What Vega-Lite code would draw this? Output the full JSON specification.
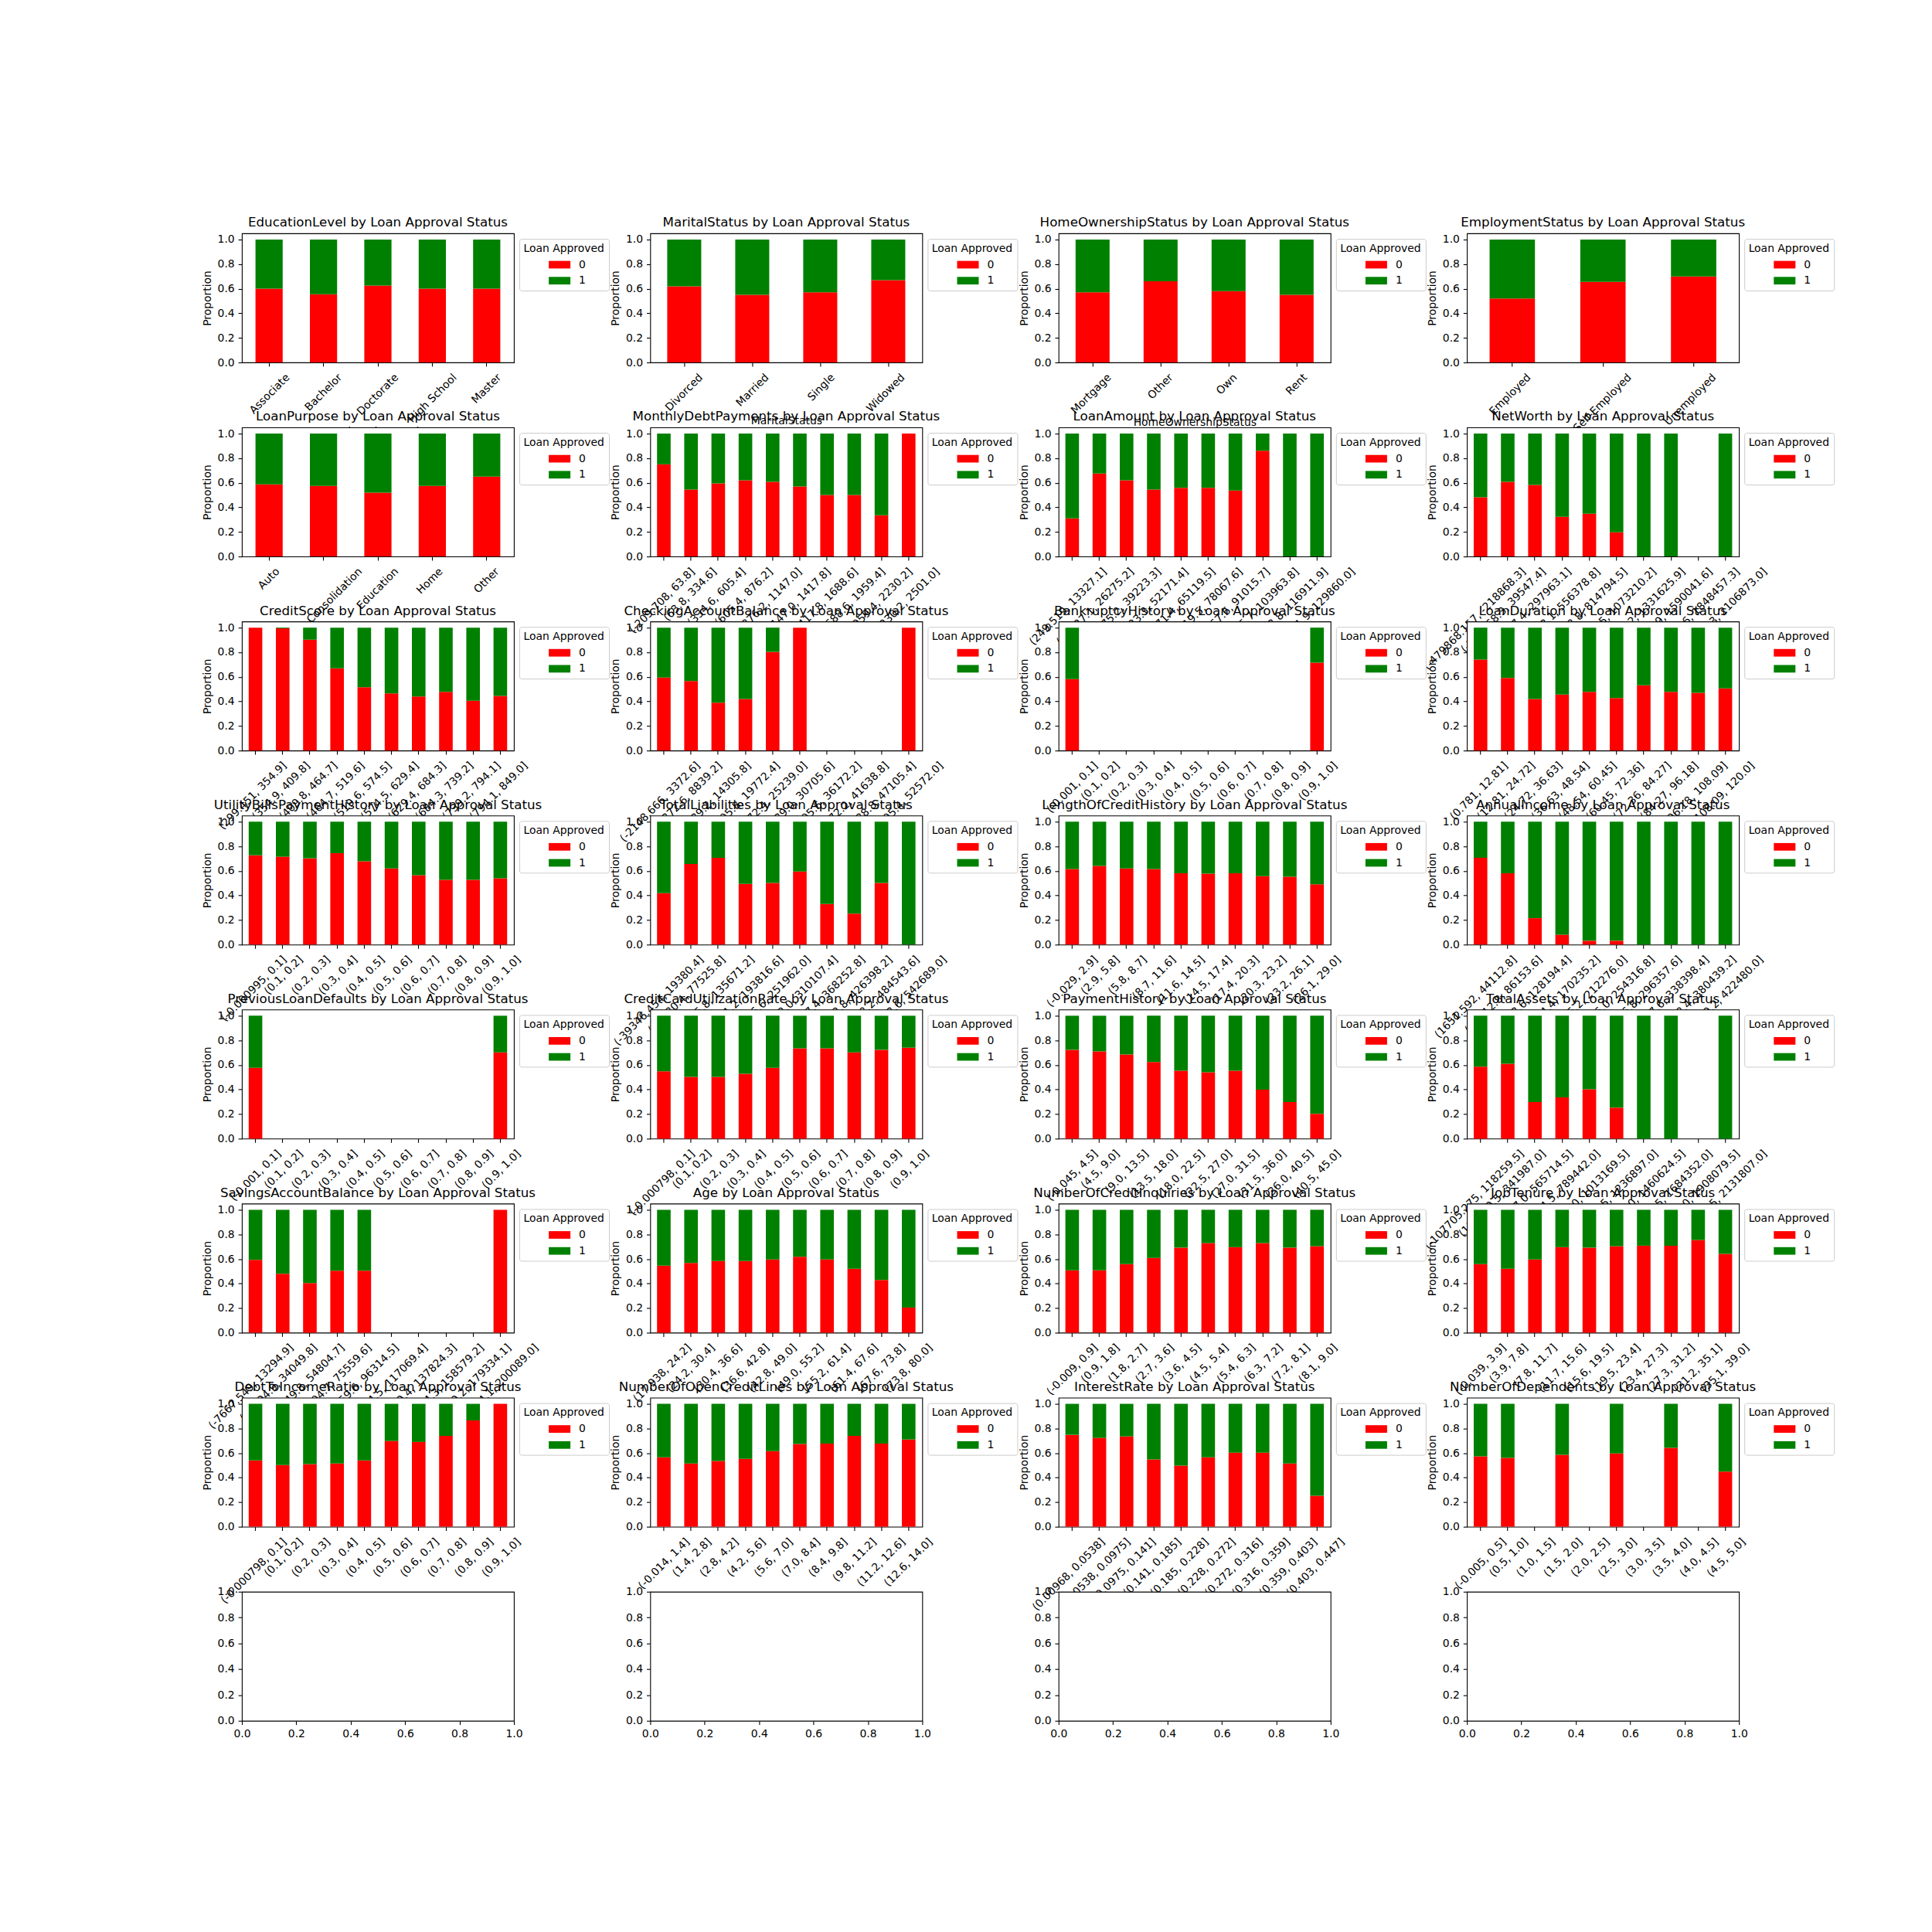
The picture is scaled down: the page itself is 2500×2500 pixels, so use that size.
{
"$schema": "https://vega.github.io/schema/vega-lite/v6.json",
"background": "white",
"padding": {"left": 260, "top": 279, "right": 10, "bottom": 10},
"data": {"values": [
{"f":"EducationLevel","b":"Associate","0":0.60,"1":0.40},
{"f":"EducationLevel","b":"Bachelor","0":0.555,"1":0.445},
{"f":"EducationLevel","b":"Doctorate","0":0.625,"1":0.375},
{"f":"EducationLevel","b":"High School","0":0.60,"1":0.40},
{"f":"EducationLevel","b":"Master","0":0.60,"1":0.40},
{"f":"MaritalStatus","b":"Divorced","0":0.62,"1":0.38},
{"f":"MaritalStatus","b":"Married","0":0.55,"1":0.45},
{"f":"MaritalStatus","b":"Single","0":0.57,"1":0.43},
{"f":"MaritalStatus","b":"Widowed","0":0.67,"1":0.33},
{"f":"HomeOwnershipStatus","b":"Mortgage","0":0.57,"1":0.43},
{"f":"HomeOwnershipStatus","b":"Other","0":0.66,"1":0.34},
{"f":"HomeOwnershipStatus","b":"Own","0":0.58,"1":0.42},
{"f":"HomeOwnershipStatus","b":"Rent","0":0.55,"1":0.45},
{"f":"EmploymentStatus","b":"Employed","0":0.52,"1":0.48},
{"f":"EmploymentStatus","b":"Self-Employed","0":0.655,"1":0.345},
{"f":"EmploymentStatus","b":"Unemployed","0":0.70,"1":0.30},
{"f":"LoanPurpose","b":"Auto","0":0.587,"1":0.413},
{"f":"LoanPurpose","b":"Debt Consolidation","0":0.574,"1":0.426},
{"f":"LoanPurpose","b":"Education","0":0.52,"1":0.48},
{"f":"LoanPurpose","b":"Home","0":0.574,"1":0.426},
{"f":"LoanPurpose","b":"Other","0":0.65,"1":0.35},
{"f":"MonthlyDebtPayments","b":"(-209.708, 63.8]","0":0.75,"1":0.25},
{"f":"MonthlyDebtPayments","b":"(63.8, 334.6]","0":0.545,"1":0.455},
{"f":"MonthlyDebtPayments","b":"(334.6, 605.4]","0":0.595,"1":0.405},
{"f":"MonthlyDebtPayments","b":"(605.4, 876.2]","0":0.62,"1":0.38},
{"f":"MonthlyDebtPayments","b":"(876.2, 1147.0]","0":0.608,"1":0.392},
{"f":"MonthlyDebtPayments","b":"(1147.0, 1417.8]","0":0.57,"1":0.43},
{"f":"MonthlyDebtPayments","b":"(1417.8, 1688.6]","0":0.50,"1":0.50},
{"f":"MonthlyDebtPayments","b":"(1688.6, 1959.4]","0":0.50,"1":0.50},
{"f":"MonthlyDebtPayments","b":"(1959.4, 2230.2]","0":0.335,"1":0.665},
{"f":"MonthlyDebtPayments","b":"(2230.2, 2501.0]","0":1,"1":0},
{"f":"LoanAmount","b":"(249.519, 13327.1]","0":0.31,"1":0.69},
{"f":"LoanAmount","b":"(13327.1, 26275.2]","0":0.675,"1":0.325},
{"f":"LoanAmount","b":"(26275.2, 39223.3]","0":0.62,"1":0.38},
{"f":"LoanAmount","b":"(39223.3, 52171.4]","0":0.545,"1":0.455},
{"f":"LoanAmount","b":"(52171.4, 65119.5]","0":0.558,"1":0.442},
{"f":"LoanAmount","b":"(65119.5, 78067.6]","0":0.558,"1":0.442},
{"f":"LoanAmount","b":"(78067.6, 91015.7]","0":0.537,"1":0.463},
{"f":"LoanAmount","b":"(91015.7, 103963.8]","0":0.86,"1":0.14},
{"f":"LoanAmount","b":"(103963.8, 116911.9]","0":0,"1":1},
{"f":"LoanAmount","b":"(116911.9, 129860.0]","0":0,"1":1},
{"f":"NetWorth","b":"(-479868.157, -218868.3]","0":0.482,"1":0.518},
{"f":"NetWorth","b":"(-218868.3, 39547.4]","0":0.608,"1":0.392},
{"f":"NetWorth","b":"(39547.4, 297963.1]","0":0.583,"1":0.417},
{"f":"NetWorth","b":"(297963.1, 556378.8]","0":0.323,"1":0.677},
{"f":"NetWorth","b":"(556378.8, 814794.5]","0":0.348,"1":0.652},
{"f":"NetWorth","b":"(814794.5, 1073210.2]","0":0.197,"1":0.803},
{"f":"NetWorth","b":"(1073210.2, 1331625.9]","0":0,"1":1},
{"f":"NetWorth","b":"(1331625.9, 1590041.6]","0":0,"1":1},
{"f":"NetWorth","b":"(1590041.6, 1848457.3]","0":0,"1":0},
{"f":"NetWorth","b":"(1848457.3, 2106873.0]","0":0,"1":1},
{"f":"CreditScore","b":"(299.451, 354.9]","0":1,"1":0},
{"f":"CreditScore","b":"(354.9, 409.8]","0":0.994,"1":0.006},
{"f":"CreditScore","b":"(409.8, 464.7]","0":0.902,"1":0.098},
{"f":"CreditScore","b":"(464.7, 519.6]","0":0.669,"1":0.331},
{"f":"CreditScore","b":"(519.6, 574.5]","0":0.515,"1":0.485},
{"f":"CreditScore","b":"(574.5, 629.4]","0":0.465,"1":0.535},
{"f":"CreditScore","b":"(629.4, 684.3]","0":0.44,"1":0.56},
{"f":"CreditScore","b":"(684.3, 739.2]","0":0.477,"1":0.523},
{"f":"CreditScore","b":"(739.2, 794.1]","0":0.406,"1":0.594},
{"f":"CreditScore","b":"(794.1, 849.0]","0":0.444,"1":0.556},
{"f":"CheckingAccountBalance","b":"(-2148.666, 3372.6]","0":0.594,"1":0.406},
{"f":"CheckingAccountBalance","b":"(3372.6, 8839.2]","0":0.565,"1":0.435},
{"f":"CheckingAccountBalance","b":"(8839.2, 14305.8]","0":0.39,"1":0.61},
{"f":"CheckingAccountBalance","b":"(14305.8, 19772.4]","0":0.419,"1":0.581},
{"f":"CheckingAccountBalance","b":"(19772.4, 25239.0]","0":0.802,"1":0.198},
{"f":"CheckingAccountBalance","b":"(25239.0, 30705.6]","0":1,"1":0},
{"f":"CheckingAccountBalance","b":"(30705.6, 36172.2]","0":0,"1":0},
{"f":"CheckingAccountBalance","b":"(36172.2, 41638.8]","0":0,"1":0},
{"f":"CheckingAccountBalance","b":"(41638.8, 47105.4]","0":0,"1":0},
{"f":"CheckingAccountBalance","b":"(47105.4, 52572.0]","0":1,"1":0},
{"f":"BankruptcyHistory","b":"(-0.001, 0.1]","0":0.581,"1":0.419},
{"f":"BankruptcyHistory","b":"(0.1, 0.2]","0":0,"1":0},
{"f":"BankruptcyHistory","b":"(0.2, 0.3]","0":0,"1":0},
{"f":"BankruptcyHistory","b":"(0.3, 0.4]","0":0,"1":0},
{"f":"BankruptcyHistory","b":"(0.4, 0.5]","0":0,"1":0},
{"f":"BankruptcyHistory","b":"(0.5, 0.6]","0":0,"1":0},
{"f":"BankruptcyHistory","b":"(0.6, 0.7]","0":0,"1":0},
{"f":"BankruptcyHistory","b":"(0.7, 0.8]","0":0,"1":0},
{"f":"BankruptcyHistory","b":"(0.8, 0.9]","0":0,"1":0},
{"f":"BankruptcyHistory","b":"(0.9, 1.0]","0":0.715,"1":0.285},
{"f":"LoanDuration","b":"(0.781, 12.81]","0":0.74,"1":0.26},
{"f":"LoanDuration","b":"(12.81, 24.72]","0":0.59,"1":0.41},
{"f":"LoanDuration","b":"(24.72, 36.63]","0":0.419,"1":0.581},
{"f":"LoanDuration","b":"(36.63, 48.54]","0":0.456,"1":0.544},
{"f":"LoanDuration","b":"(48.54, 60.45]","0":0.477,"1":0.523},
{"f":"LoanDuration","b":"(60.45, 72.36]","0":0.427,"1":0.573},
{"f":"LoanDuration","b":"(72.36, 84.27]","0":0.531,"1":0.469},
{"f":"LoanDuration","b":"(84.27, 96.18]","0":0.477,"1":0.523},
{"f":"LoanDuration","b":"(96.18, 108.09]","0":0.469,"1":0.531},
{"f":"LoanDuration","b":"(108.09, 120.0]","0":0.506,"1":0.494},
{"f":"UtilityBillsPaymentHistory","b":"(-0.000995, 0.1]","0":0.727,"1":0.273},
{"f":"UtilityBillsPaymentHistory","b":"(0.1, 0.2]","0":0.715,"1":0.285},
{"f":"UtilityBillsPaymentHistory","b":"(0.2, 0.3]","0":0.702,"1":0.298},
{"f":"UtilityBillsPaymentHistory","b":"(0.3, 0.4]","0":0.744,"1":0.256},
{"f":"UtilityBillsPaymentHistory","b":"(0.4, 0.5]","0":0.677,"1":0.323},
{"f":"UtilityBillsPaymentHistory","b":"(0.5, 0.6]","0":0.619,"1":0.381},
{"f":"UtilityBillsPaymentHistory","b":"(0.6, 0.7]","0":0.565,"1":0.435},
{"f":"UtilityBillsPaymentHistory","b":"(0.7, 0.8]","0":0.527,"1":0.473},
{"f":"UtilityBillsPaymentHistory","b":"(0.8, 0.9]","0":0.527,"1":0.473},
{"f":"UtilityBillsPaymentHistory","b":"(0.9, 1.0]","0":0.54,"1":0.46},
{"f":"TotalLiabilities","b":"(-39346.454, 19380.4]","0":0.419,"1":0.581},
{"f":"TotalLiabilities","b":"(19380.4, 77525.8]","0":0.656,"1":0.344},
{"f":"TotalLiabilities","b":"(77525.8, 135671.2]","0":0.706,"1":0.294},
{"f":"TotalLiabilities","b":"(135671.2, 193816.6]","0":0.494,"1":0.506},
{"f":"TotalLiabilities","b":"(193816.6, 251962.0]","0":0.502,"1":0.498},
{"f":"TotalLiabilities","b":"(251962.0, 310107.4]","0":0.594,"1":0.406},
{"f":"TotalLiabilities","b":"(310107.4, 368252.8]","0":0.331,"1":0.669},
{"f":"TotalLiabilities","b":"(368252.8, 426398.2]","0":0.252,"1":0.748},
{"f":"TotalLiabilities","b":"(426398.2, 484543.6]","0":0.502,"1":0.498},
{"f":"TotalLiabilities","b":"(484543.6, 542689.0]","0":0,"1":1},
{"f":"LengthOfCreditHistory","b":"(-0.029, 2.9]","0":0.615,"1":0.385},
{"f":"LengthOfCreditHistory","b":"(2.9, 5.8]","0":0.64,"1":0.36},
{"f":"LengthOfCreditHistory","b":"(5.8, 8.7]","0":0.619,"1":0.381},
{"f":"LengthOfCreditHistory","b":"(8.7, 11.6]","0":0.615,"1":0.385},
{"f":"LengthOfCreditHistory","b":"(11.6, 14.5]","0":0.581,"1":0.419},
{"f":"LengthOfCreditHistory","b":"(14.5, 17.4]","0":0.577,"1":0.423},
{"f":"LengthOfCreditHistory","b":"(17.4, 20.3]","0":0.581,"1":0.419},
{"f":"LengthOfCreditHistory","b":"(20.3, 23.2]","0":0.556,"1":0.444},
{"f":"LengthOfCreditHistory","b":"(23.2, 26.1]","0":0.552,"1":0.448},
{"f":"LengthOfCreditHistory","b":"(26.1, 29.0]","0":0.49,"1":0.51},
{"f":"AnnualIncome","b":"(1651.592, 44112.8]","0":0.706,"1":0.294},
{"f":"AnnualIncome","b":"(44112.8, 86153.6]","0":0.581,"1":0.419},
{"f":"AnnualIncome","b":"(86153.6, 128194.4]","0":0.215,"1":0.785},
{"f":"AnnualIncome","b":"(128194.4, 170235.2]","0":0.081,"1":0.919},
{"f":"AnnualIncome","b":"(170235.2, 212276.0]","0":0.031,"1":0.969},
{"f":"AnnualIncome","b":"(212276.0, 254316.8]","0":0.031,"1":0.969},
{"f":"AnnualIncome","b":"(254316.8, 296357.6]","0":0,"1":1},
{"f":"AnnualIncome","b":"(296357.6, 338398.4]","0":0,"1":1},
{"f":"AnnualIncome","b":"(338398.4, 380439.2]","0":0,"1":1},
{"f":"AnnualIncome","b":"(380439.2, 422480.0]","0":0,"1":1},
{"f":"PreviousLoanDefaults","b":"(-0.001, 0.1]","0":0.577,"1":0.423},
{"f":"PreviousLoanDefaults","b":"(0.1, 0.2]","0":0,"1":0},
{"f":"PreviousLoanDefaults","b":"(0.2, 0.3]","0":0,"1":0},
{"f":"PreviousLoanDefaults","b":"(0.3, 0.4]","0":0,"1":0},
{"f":"PreviousLoanDefaults","b":"(0.4, 0.5]","0":0,"1":0},
{"f":"PreviousLoanDefaults","b":"(0.5, 0.6]","0":0,"1":0},
{"f":"PreviousLoanDefaults","b":"(0.6, 0.7]","0":0,"1":0},
{"f":"PreviousLoanDefaults","b":"(0.7, 0.8]","0":0,"1":0},
{"f":"PreviousLoanDefaults","b":"(0.8, 0.9]","0":0,"1":0},
{"f":"PreviousLoanDefaults","b":"(0.9, 1.0]","0":0.702,"1":0.298},
{"f":"CreditCardUtilizationRate","b":"(-0.000798, 0.1]","0":0.548,"1":0.452},
{"f":"CreditCardUtilizationRate","b":"(0.1, 0.2]","0":0.502,"1":0.498},
{"f":"CreditCardUtilizationRate","b":"(0.2, 0.3]","0":0.502,"1":0.498},
{"f":"CreditCardUtilizationRate","b":"(0.3, 0.4]","0":0.527,"1":0.473},
{"f":"CreditCardUtilizationRate","b":"(0.4, 0.5]","0":0.577,"1":0.423},
{"f":"CreditCardUtilizationRate","b":"(0.5, 0.6]","0":0.735,"1":0.265},
{"f":"CreditCardUtilizationRate","b":"(0.6, 0.7]","0":0.735,"1":0.265},
{"f":"CreditCardUtilizationRate","b":"(0.7, 0.8]","0":0.702,"1":0.298},
{"f":"CreditCardUtilizationRate","b":"(0.8, 0.9]","0":0.723,"1":0.277},
{"f":"CreditCardUtilizationRate","b":"(0.9, 1.0]","0":0.74,"1":0.26},
{"f":"PaymentHistory","b":"(-0.045, 4.5]","0":0.723,"1":0.277},
{"f":"PaymentHistory","b":"(4.5, 9.0]","0":0.71,"1":0.29},
{"f":"PaymentHistory","b":"(9.0, 13.5]","0":0.685,"1":0.315},
{"f":"PaymentHistory","b":"(13.5, 18.0]","0":0.623,"1":0.377},
{"f":"PaymentHistory","b":"(18.0, 22.5]","0":0.552,"1":0.448},
{"f":"PaymentHistory","b":"(22.5, 27.0]","0":0.54,"1":0.46},
{"f":"PaymentHistory","b":"(27.0, 31.5]","0":0.552,"1":0.448},
{"f":"PaymentHistory","b":"(31.5, 36.0]","0":0.398,"1":0.602},
{"f":"PaymentHistory","b":"(36.0, 40.5]","0":0.298,"1":0.702},
{"f":"PaymentHistory","b":"(40.5, 45.0]","0":0.202,"1":0.798},
{"f":"TotalAssets","b":"(-107705.275, 118259.5]","0":0.585,"1":0.415},
{"f":"TotalAssets","b":"(118259.5, 341987.0]","0":0.61,"1":0.39},
{"f":"TotalAssets","b":"(341987.0, 565714.5]","0":0.298,"1":0.702},
{"f":"TotalAssets","b":"(565714.5, 789442.0]","0":0.335,"1":0.665},
{"f":"TotalAssets","b":"(789442.0, 1013169.5]","0":0.402,"1":0.598},
{"f":"TotalAssets","b":"(1013169.5, 1236897.0]","0":0.252,"1":0.748},
{"f":"TotalAssets","b":"(1236897.0, 1460624.5]","0":0,"1":1},
{"f":"TotalAssets","b":"(1460624.5, 1684352.0]","0":0,"1":1},
{"f":"TotalAssets","b":"(1684352.0, 1908079.5]","0":0,"1":0},
{"f":"TotalAssets","b":"(1908079.5, 2131807.0]","0":0,"1":1},
{"f":"SavingsAccountBalance","b":"(-7667.549, 13294.9]","0":0.592,"1":0.408},
{"f":"SavingsAccountBalance","b":"(13294.9, 34049.8]","0":0.479,"1":0.521},
{"f":"SavingsAccountBalance","b":"(34049.8, 54804.7]","0":0.404,"1":0.596},
{"f":"SavingsAccountBalance","b":"(54804.7, 75559.6]","0":0.504,"1":0.496},
{"f":"SavingsAccountBalance","b":"(75559.6, 96314.5]","0":0.504,"1":0.496},
{"f":"SavingsAccountBalance","b":"(96314.5, 117069.4]","0":0,"1":0},
{"f":"SavingsAccountBalance","b":"(117069.4, 137824.3]","0":0,"1":0},
{"f":"SavingsAccountBalance","b":"(137824.3, 158579.2]","0":0,"1":0},
{"f":"SavingsAccountBalance","b":"(158579.2, 179334.1]","0":0,"1":0},
{"f":"SavingsAccountBalance","b":"(179334.1, 200089.0]","0":1,"1":0},
{"f":"Age","b":"(17.938, 24.2]","0":0.546,"1":0.454},
{"f":"Age","b":"(24.2, 30.4]","0":0.567,"1":0.433},
{"f":"Age","b":"(30.4, 36.6]","0":0.583,"1":0.417},
{"f":"Age","b":"(36.6, 42.8]","0":0.583,"1":0.417},
{"f":"Age","b":"(42.8, 49.0]","0":0.596,"1":0.404},
{"f":"Age","b":"(49.0, 55.2]","0":0.617,"1":0.383},
{"f":"Age","b":"(55.2, 61.4]","0":0.596,"1":0.404},
{"f":"Age","b":"(61.4, 67.6]","0":0.521,"1":0.479},
{"f":"Age","b":"(67.6, 73.8]","0":0.429,"1":0.571},
{"f":"Age","b":"(73.8, 80.0]","0":0.204,"1":0.796},
{"f":"NumberOfCreditInquiries","b":"(-0.009, 0.9]","0":0.508,"1":0.492},
{"f":"NumberOfCreditInquiries","b":"(0.9, 1.8]","0":0.508,"1":0.492},
{"f":"NumberOfCreditInquiries","b":"(1.8, 2.7]","0":0.558,"1":0.442},
{"f":"NumberOfCreditInquiries","b":"(2.7, 3.6]","0":0.608,"1":0.392},
{"f":"NumberOfCreditInquiries","b":"(3.6, 4.5]","0":0.692,"1":0.308},
{"f":"NumberOfCreditInquiries","b":"(4.5, 5.4]","0":0.729,"1":0.271},
{"f":"NumberOfCreditInquiries","b":"(5.4, 6.3]","0":0.696,"1":0.304},
{"f":"NumberOfCreditInquiries","b":"(6.3, 7.2]","0":0.729,"1":0.271},
{"f":"NumberOfCreditInquiries","b":"(7.2, 8.1]","0":0.692,"1":0.308},
{"f":"NumberOfCreditInquiries","b":"(8.1, 9.0]","0":0.704,"1":0.296},
{"f":"JobTenure","b":"(-0.039, 3.9]","0":0.558,"1":0.442},
{"f":"JobTenure","b":"(3.9, 7.8]","0":0.521,"1":0.479},
{"f":"JobTenure","b":"(7.8, 11.7]","0":0.596,"1":0.404},
{"f":"JobTenure","b":"(11.7, 15.6]","0":0.696,"1":0.304},
{"f":"JobTenure","b":"(15.6, 19.5]","0":0.692,"1":0.308},
{"f":"JobTenure","b":"(19.5, 23.4]","0":0.704,"1":0.296},
{"f":"JobTenure","b":"(23.4, 27.3]","0":0.708,"1":0.292},
{"f":"JobTenure","b":"(27.3, 31.2]","0":0.708,"1":0.292},
{"f":"JobTenure","b":"(31.2, 35.1]","0":0.754,"1":0.246},
{"f":"JobTenure","b":"(35.1, 39.0]","0":0.642,"1":0.358},
{"f":"DebtToIncomeRatio","b":"(-0.000798, 0.1]","0":0.54,"1":0.46},
{"f":"DebtToIncomeRatio","b":"(0.1, 0.2]","0":0.502,"1":0.498},
{"f":"DebtToIncomeRatio","b":"(0.2, 0.3]","0":0.51,"1":0.49},
{"f":"DebtToIncomeRatio","b":"(0.3, 0.4]","0":0.515,"1":0.485},
{"f":"DebtToIncomeRatio","b":"(0.4, 0.5]","0":0.54,"1":0.46},
{"f":"DebtToIncomeRatio","b":"(0.5, 0.6]","0":0.698,"1":0.302},
{"f":"DebtToIncomeRatio","b":"(0.6, 0.7]","0":0.69,"1":0.31},
{"f":"DebtToIncomeRatio","b":"(0.7, 0.8]","0":0.74,"1":0.26},
{"f":"DebtToIncomeRatio","b":"(0.8, 0.9]","0":0.865,"1":0.135},
{"f":"DebtToIncomeRatio","b":"(0.9, 1.0]","0":1,"1":0},
{"f":"NumberOfOpenCreditLines","b":"(-0.014, 1.4]","0":0.565,"1":0.435},
{"f":"NumberOfOpenCreditLines","b":"(1.4, 2.8]","0":0.515,"1":0.485},
{"f":"NumberOfOpenCreditLines","b":"(2.8, 4.2]","0":0.535,"1":0.465},
{"f":"NumberOfOpenCreditLines","b":"(4.2, 5.6]","0":0.552,"1":0.448},
{"f":"NumberOfOpenCreditLines","b":"(5.6, 7.0]","0":0.615,"1":0.385},
{"f":"NumberOfOpenCreditLines","b":"(7.0, 8.4]","0":0.673,"1":0.327},
{"f":"NumberOfOpenCreditLines","b":"(8.4, 9.8]","0":0.677,"1":0.323},
{"f":"NumberOfOpenCreditLines","b":"(9.8, 11.2]","0":0.74,"1":0.26},
{"f":"NumberOfOpenCreditLines","b":"(11.2, 12.6]","0":0.677,"1":0.323},
{"f":"NumberOfOpenCreditLines","b":"(12.6, 14.0]","0":0.71,"1":0.29},
{"f":"InterestRate","b":"(0.00968, 0.0538]","0":0.748,"1":0.252},
{"f":"InterestRate","b":"(0.0538, 0.0975]","0":0.723,"1":0.277},
{"f":"InterestRate","b":"(0.0975, 0.141]","0":0.735,"1":0.265},
{"f":"InterestRate","b":"(0.141, 0.185]","0":0.548,"1":0.452},
{"f":"InterestRate","b":"(0.185, 0.228]","0":0.498,"1":0.502},
{"f":"InterestRate","b":"(0.228, 0.272]","0":0.565,"1":0.435},
{"f":"InterestRate","b":"(0.272, 0.316]","0":0.602,"1":0.398},
{"f":"InterestRate","b":"(0.316, 0.359]","0":0.602,"1":0.398},
{"f":"InterestRate","b":"(0.359, 0.403]","0":0.515,"1":0.485},
{"f":"InterestRate","b":"(0.403, 0.447]","0":0.252,"1":0.748},
{"f":"NumberOfDependents","b":"(-0.005, 0.5]","0":0.573,"1":0.427},
{"f":"NumberOfDependents","b":"(0.5, 1.0]","0":0.56,"1":0.44},
{"f":"NumberOfDependents","b":"(1.0, 1.5]","0":0,"1":0},
{"f":"NumberOfDependents","b":"(1.5, 2.0]","0":0.585,"1":0.415},
{"f":"NumberOfDependents","b":"(2.0, 2.5]","0":0,"1":0},
{"f":"NumberOfDependents","b":"(2.5, 3.0]","0":0.596,"1":0.404},
{"f":"NumberOfDependents","b":"(3.0, 3.5]","0":0,"1":0},
{"f":"NumberOfDependents","b":"(3.5, 4.0]","0":0.642,"1":0.358},
{"f":"NumberOfDependents","b":"(4.0, 4.5]","0":0,"1":0},
{"f":"NumberOfDependents","b":"(4.5, 5.0]","0":0.448,"1":0.552}
]},
"columns": 4,
"spacing": {"row": 84.1, "column": 176.4},
"bounds": "flush",
"resolve": {"scale": {"color": "independent"}, "legend": {"color": "independent"}},
"concat": [
{"title": "EducationLevel by Loan Approval Status", "width": 352, "height": 167, "transform": [{"filter": "datum.f === 'EducationLevel'"}, {"fold": ["0", "1"], "as": ["Loan Approved", "p"]}], "mark": "bar", "encoding": {"x": {"field": "b", "type": "nominal", "sort": null, "title": "EducationLevel", "axis": {"labelAngle": -45, "labelAlign": "right", "labelBaseline": "middle", "labelPadding": 12, "labelOffset": {"expr": "2.6*length(datum.value)+1"}}}, "y": {"field": "p", "type": "quantitative", "stack": "zero", "title": "Proportion", "scale": {"domain": [0, 1.05], "nice": false}, "axis": {"values": [0, 0.2, 0.4, 0.6, 0.8, 1], "format": ".1f"}}, "order": {"field": "Loan Approved", "sort": "ascending"}, "color": {"field": "Loan Approved", "type": "nominal", "scale": {"domain": ["0", "1"], "range": ["#ff0000", "#008000"]}}}},
{"title": "MaritalStatus by Loan Approval Status", "width": 352, "height": 167, "transform": [{"filter": "datum.f === 'MaritalStatus'"}, {"fold": ["0", "1"], "as": ["Loan Approved", "p"]}], "mark": "bar", "encoding": {"x": {"field": "b", "type": "nominal", "sort": null, "title": "MaritalStatus", "axis": {"labelAngle": -45, "labelAlign": "right", "labelBaseline": "middle", "labelPadding": 12, "labelOffset": {"expr": "2.6*length(datum.value)+1"}}}, "y": {"field": "p", "type": "quantitative", "stack": "zero", "title": "Proportion", "scale": {"domain": [0, 1.05], "nice": false}, "axis": {"values": [0, 0.2, 0.4, 0.6, 0.8, 1], "format": ".1f"}}, "order": {"field": "Loan Approved", "sort": "ascending"}, "color": {"field": "Loan Approved", "type": "nominal", "scale": {"domain": ["0", "1"], "range": ["#ff0000", "#008000"]}}}},
{"title": "HomeOwnershipStatus by Loan Approval Status", "width": 352, "height": 167, "transform": [{"filter": "datum.f === 'HomeOwnershipStatus'"}, {"fold": ["0", "1"], "as": ["Loan Approved", "p"]}], "mark": "bar", "encoding": {"x": {"field": "b", "type": "nominal", "sort": null, "title": "HomeOwnershipStatus", "axis": {"labelAngle": -45, "labelAlign": "right", "labelBaseline": "middle", "labelPadding": 12, "labelOffset": {"expr": "2.6*length(datum.value)+1"}}}, "y": {"field": "p", "type": "quantitative", "stack": "zero", "title": "Proportion", "scale": {"domain": [0, 1.05], "nice": false}, "axis": {"values": [0, 0.2, 0.4, 0.6, 0.8, 1], "format": ".1f"}}, "order": {"field": "Loan Approved", "sort": "ascending"}, "color": {"field": "Loan Approved", "type": "nominal", "scale": {"domain": ["0", "1"], "range": ["#ff0000", "#008000"]}}}},
{"title": "EmploymentStatus by Loan Approval Status", "width": 352, "height": 167, "transform": [{"filter": "datum.f === 'EmploymentStatus'"}, {"fold": ["0", "1"], "as": ["Loan Approved", "p"]}], "mark": "bar", "encoding": {"x": {"field": "b", "type": "nominal", "sort": null, "title": "EmploymentStatus", "axis": {"labelAngle": -45, "labelAlign": "right", "labelBaseline": "middle", "labelPadding": 12, "labelOffset": {"expr": "2.6*length(datum.value)+1"}}}, "y": {"field": "p", "type": "quantitative", "stack": "zero", "title": "Proportion", "scale": {"domain": [0, 1.05], "nice": false}, "axis": {"values": [0, 0.2, 0.4, 0.6, 0.8, 1], "format": ".1f"}}, "order": {"field": "Loan Approved", "sort": "ascending"}, "color": {"field": "Loan Approved", "type": "nominal", "scale": {"domain": ["0", "1"], "range": ["#ff0000", "#008000"]}}}},
{"title": "LoanPurpose by Loan Approval Status", "width": 352, "height": 167, "transform": [{"filter": "datum.f === 'LoanPurpose'"}, {"fold": ["0", "1"], "as": ["Loan Approved", "p"]}], "mark": "bar", "encoding": {"x": {"field": "b", "type": "nominal", "sort": null, "title": "LoanPurpose", "axis": {"labelAngle": -45, "labelAlign": "right", "labelBaseline": "middle", "labelPadding": 12, "labelOffset": {"expr": "2.6*length(datum.value)+1"}}}, "y": {"field": "p", "type": "quantitative", "stack": "zero", "title": "Proportion", "scale": {"domain": [0, 1.05], "nice": false}, "axis": {"values": [0, 0.2, 0.4, 0.6, 0.8, 1], "format": ".1f"}}, "order": {"field": "Loan Approved", "sort": "ascending"}, "color": {"field": "Loan Approved", "type": "nominal", "scale": {"domain": ["0", "1"], "range": ["#ff0000", "#008000"]}}}},
{"title": "MonthlyDebtPayments by Loan Approval Status", "width": 352, "height": 167, "transform": [{"filter": "datum.f === 'MonthlyDebtPayments'"}, {"fold": ["0", "1"], "as": ["Loan Approved", "p"]}], "mark": "bar", "encoding": {"x": {"field": "b", "type": "nominal", "sort": null, "title": "MonthlyDebtPayments", "axis": {"labelAngle": -45, "labelAlign": "right", "labelBaseline": "middle", "labelPadding": 12, "labelOffset": {"expr": "2.3*length(datum.value)+1"}}}, "y": {"field": "p", "type": "quantitative", "stack": "zero", "title": "Proportion", "scale": {"domain": [0, 1.05], "nice": false}, "axis": {"values": [0, 0.2, 0.4, 0.6, 0.8, 1], "format": ".1f"}}, "order": {"field": "Loan Approved", "sort": "ascending"}, "color": {"field": "Loan Approved", "type": "nominal", "scale": {"domain": ["0", "1"], "range": ["#ff0000", "#008000"]}}}},
{"title": "LoanAmount by Loan Approval Status", "width": 352, "height": 167, "transform": [{"filter": "datum.f === 'LoanAmount'"}, {"fold": ["0", "1"], "as": ["Loan Approved", "p"]}], "mark": "bar", "encoding": {"x": {"field": "b", "type": "nominal", "sort": null, "title": "LoanAmount", "axis": {"labelAngle": -45, "labelAlign": "right", "labelBaseline": "middle", "labelPadding": 12, "labelOffset": {"expr": "2.3*length(datum.value)+1"}}}, "y": {"field": "p", "type": "quantitative", "stack": "zero", "title": "Proportion", "scale": {"domain": [0, 1.05], "nice": false}, "axis": {"values": [0, 0.2, 0.4, 0.6, 0.8, 1], "format": ".1f"}}, "order": {"field": "Loan Approved", "sort": "ascending"}, "color": {"field": "Loan Approved", "type": "nominal", "scale": {"domain": ["0", "1"], "range": ["#ff0000", "#008000"]}}}},
{"title": "NetWorth by Loan Approval Status", "width": 352, "height": 167, "transform": [{"filter": "datum.f === 'NetWorth'"}, {"fold": ["0", "1"], "as": ["Loan Approved", "p"]}], "mark": "bar", "encoding": {"x": {"field": "b", "type": "nominal", "sort": null, "title": "NetWorth", "axis": {"labelAngle": -45, "labelAlign": "right", "labelBaseline": "middle", "labelPadding": 12, "labelOffset": {"expr": "2.3*length(datum.value)+1"}}}, "y": {"field": "p", "type": "quantitative", "stack": "zero", "title": "Proportion", "scale": {"domain": [0, 1.05], "nice": false}, "axis": {"values": [0, 0.2, 0.4, 0.6, 0.8, 1], "format": ".1f"}}, "order": {"field": "Loan Approved", "sort": "ascending"}, "color": {"field": "Loan Approved", "type": "nominal", "scale": {"domain": ["0", "1"], "range": ["#ff0000", "#008000"]}}}},
{"title": "CreditScore by Loan Approval Status", "width": 352, "height": 167, "transform": [{"filter": "datum.f === 'CreditScore'"}, {"fold": ["0", "1"], "as": ["Loan Approved", "p"]}], "mark": "bar", "encoding": {"x": {"field": "b", "type": "nominal", "sort": null, "title": "CreditScore", "axis": {"labelAngle": -45, "labelAlign": "right", "labelBaseline": "middle", "labelPadding": 12, "labelOffset": {"expr": "2.3*length(datum.value)+1"}}}, "y": {"field": "p", "type": "quantitative", "stack": "zero", "title": "Proportion", "scale": {"domain": [0, 1.05], "nice": false}, "axis": {"values": [0, 0.2, 0.4, 0.6, 0.8, 1], "format": ".1f"}}, "order": {"field": "Loan Approved", "sort": "ascending"}, "color": {"field": "Loan Approved", "type": "nominal", "scale": {"domain": ["0", "1"], "range": ["#ff0000", "#008000"]}}}},
{"title": "CheckingAccountBalance by Loan Approval Status", "width": 352, "height": 167, "transform": [{"filter": "datum.f === 'CheckingAccountBalance'"}, {"fold": ["0", "1"], "as": ["Loan Approved", "p"]}], "mark": "bar", "encoding": {"x": {"field": "b", "type": "nominal", "sort": null, "title": "CheckingAccountBalance", "axis": {"labelAngle": -45, "labelAlign": "right", "labelBaseline": "middle", "labelPadding": 12, "labelOffset": {"expr": "2.3*length(datum.value)+1"}}}, "y": {"field": "p", "type": "quantitative", "stack": "zero", "title": "Proportion", "scale": {"domain": [0, 1.05], "nice": false}, "axis": {"values": [0, 0.2, 0.4, 0.6, 0.8, 1], "format": ".1f"}}, "order": {"field": "Loan Approved", "sort": "ascending"}, "color": {"field": "Loan Approved", "type": "nominal", "scale": {"domain": ["0", "1"], "range": ["#ff0000", "#008000"]}}}},
{"title": "BankruptcyHistory by Loan Approval Status", "width": 352, "height": 167, "transform": [{"filter": "datum.f === 'BankruptcyHistory'"}, {"fold": ["0", "1"], "as": ["Loan Approved", "p"]}], "mark": "bar", "encoding": {"x": {"field": "b", "type": "nominal", "sort": null, "title": "BankruptcyHistory", "axis": {"labelAngle": -45, "labelAlign": "right", "labelBaseline": "middle", "labelPadding": 12, "labelOffset": {"expr": "2.3*length(datum.value)+1"}}}, "y": {"field": "p", "type": "quantitative", "stack": "zero", "title": "Proportion", "scale": {"domain": [0, 1.05], "nice": false}, "axis": {"values": [0, 0.2, 0.4, 0.6, 0.8, 1], "format": ".1f"}}, "order": {"field": "Loan Approved", "sort": "ascending"}, "color": {"field": "Loan Approved", "type": "nominal", "scale": {"domain": ["0", "1"], "range": ["#ff0000", "#008000"]}}}},
{"title": "LoanDuration by Loan Approval Status", "width": 352, "height": 167, "transform": [{"filter": "datum.f === 'LoanDuration'"}, {"fold": ["0", "1"], "as": ["Loan Approved", "p"]}], "mark": "bar", "encoding": {"x": {"field": "b", "type": "nominal", "sort": null, "title": "LoanDuration", "axis": {"labelAngle": -45, "labelAlign": "right", "labelBaseline": "middle", "labelPadding": 12, "labelOffset": {"expr": "2.3*length(datum.value)+1"}}}, "y": {"field": "p", "type": "quantitative", "stack": "zero", "title": "Proportion", "scale": {"domain": [0, 1.05], "nice": false}, "axis": {"values": [0, 0.2, 0.4, 0.6, 0.8, 1], "format": ".1f"}}, "order": {"field": "Loan Approved", "sort": "ascending"}, "color": {"field": "Loan Approved", "type": "nominal", "scale": {"domain": ["0", "1"], "range": ["#ff0000", "#008000"]}}}},
{"title": "UtilityBillsPaymentHistory by Loan Approval Status", "width": 352, "height": 167, "transform": [{"filter": "datum.f === 'UtilityBillsPaymentHistory'"}, {"fold": ["0", "1"], "as": ["Loan Approved", "p"]}], "mark": "bar", "encoding": {"x": {"field": "b", "type": "nominal", "sort": null, "title": "UtilityBillsPaymentHistory", "axis": {"labelAngle": -45, "labelAlign": "right", "labelBaseline": "middle", "labelPadding": 12, "labelOffset": {"expr": "2.3*length(datum.value)+1"}}}, "y": {"field": "p", "type": "quantitative", "stack": "zero", "title": "Proportion", "scale": {"domain": [0, 1.05], "nice": false}, "axis": {"values": [0, 0.2, 0.4, 0.6, 0.8, 1], "format": ".1f"}}, "order": {"field": "Loan Approved", "sort": "ascending"}, "color": {"field": "Loan Approved", "type": "nominal", "scale": {"domain": ["0", "1"], "range": ["#ff0000", "#008000"]}}}},
{"title": "TotalLiabilities by Loan Approval Status", "width": 352, "height": 167, "transform": [{"filter": "datum.f === 'TotalLiabilities'"}, {"fold": ["0", "1"], "as": ["Loan Approved", "p"]}], "mark": "bar", "encoding": {"x": {"field": "b", "type": "nominal", "sort": null, "title": "TotalLiabilities", "axis": {"labelAngle": -45, "labelAlign": "right", "labelBaseline": "middle", "labelPadding": 12, "labelOffset": {"expr": "2.3*length(datum.value)+1"}}}, "y": {"field": "p", "type": "quantitative", "stack": "zero", "title": "Proportion", "scale": {"domain": [0, 1.05], "nice": false}, "axis": {"values": [0, 0.2, 0.4, 0.6, 0.8, 1], "format": ".1f"}}, "order": {"field": "Loan Approved", "sort": "ascending"}, "color": {"field": "Loan Approved", "type": "nominal", "scale": {"domain": ["0", "1"], "range": ["#ff0000", "#008000"]}}}},
{"title": "LengthOfCreditHistory by Loan Approval Status", "width": 352, "height": 167, "transform": [{"filter": "datum.f === 'LengthOfCreditHistory'"}, {"fold": ["0", "1"], "as": ["Loan Approved", "p"]}], "mark": "bar", "encoding": {"x": {"field": "b", "type": "nominal", "sort": null, "title": "LengthOfCreditHistory", "axis": {"labelAngle": -45, "labelAlign": "right", "labelBaseline": "middle", "labelPadding": 12, "labelOffset": {"expr": "2.3*length(datum.value)+1"}}}, "y": {"field": "p", "type": "quantitative", "stack": "zero", "title": "Proportion", "scale": {"domain": [0, 1.05], "nice": false}, "axis": {"values": [0, 0.2, 0.4, 0.6, 0.8, 1], "format": ".1f"}}, "order": {"field": "Loan Approved", "sort": "ascending"}, "color": {"field": "Loan Approved", "type": "nominal", "scale": {"domain": ["0", "1"], "range": ["#ff0000", "#008000"]}}}},
{"title": "AnnualIncome by Loan Approval Status", "width": 352, "height": 167, "transform": [{"filter": "datum.f === 'AnnualIncome'"}, {"fold": ["0", "1"], "as": ["Loan Approved", "p"]}], "mark": "bar", "encoding": {"x": {"field": "b", "type": "nominal", "sort": null, "title": "AnnualIncome", "axis": {"labelAngle": -45, "labelAlign": "right", "labelBaseline": "middle", "labelPadding": 12, "labelOffset": {"expr": "2.3*length(datum.value)+1"}}}, "y": {"field": "p", "type": "quantitative", "stack": "zero", "title": "Proportion", "scale": {"domain": [0, 1.05], "nice": false}, "axis": {"values": [0, 0.2, 0.4, 0.6, 0.8, 1], "format": ".1f"}}, "order": {"field": "Loan Approved", "sort": "ascending"}, "color": {"field": "Loan Approved", "type": "nominal", "scale": {"domain": ["0", "1"], "range": ["#ff0000", "#008000"]}}}},
{"title": "PreviousLoanDefaults by Loan Approval Status", "width": 352, "height": 167, "transform": [{"filter": "datum.f === 'PreviousLoanDefaults'"}, {"fold": ["0", "1"], "as": ["Loan Approved", "p"]}], "mark": "bar", "encoding": {"x": {"field": "b", "type": "nominal", "sort": null, "title": "PreviousLoanDefaults", "axis": {"labelAngle": -45, "labelAlign": "right", "labelBaseline": "middle", "labelPadding": 12, "labelOffset": {"expr": "2.3*length(datum.value)+1"}}}, "y": {"field": "p", "type": "quantitative", "stack": "zero", "title": "Proportion", "scale": {"domain": [0, 1.05], "nice": false}, "axis": {"values": [0, 0.2, 0.4, 0.6, 0.8, 1], "format": ".1f"}}, "order": {"field": "Loan Approved", "sort": "ascending"}, "color": {"field": "Loan Approved", "type": "nominal", "scale": {"domain": ["0", "1"], "range": ["#ff0000", "#008000"]}}}},
{"title": "CreditCardUtilizationRate by Loan Approval Status", "width": 352, "height": 167, "transform": [{"filter": "datum.f === 'CreditCardUtilizationRate'"}, {"fold": ["0", "1"], "as": ["Loan Approved", "p"]}], "mark": "bar", "encoding": {"x": {"field": "b", "type": "nominal", "sort": null, "title": "CreditCardUtilizationRate", "axis": {"labelAngle": -45, "labelAlign": "right", "labelBaseline": "middle", "labelPadding": 12, "labelOffset": {"expr": "2.3*length(datum.value)+1"}}}, "y": {"field": "p", "type": "quantitative", "stack": "zero", "title": "Proportion", "scale": {"domain": [0, 1.05], "nice": false}, "axis": {"values": [0, 0.2, 0.4, 0.6, 0.8, 1], "format": ".1f"}}, "order": {"field": "Loan Approved", "sort": "ascending"}, "color": {"field": "Loan Approved", "type": "nominal", "scale": {"domain": ["0", "1"], "range": ["#ff0000", "#008000"]}}}},
{"title": "PaymentHistory by Loan Approval Status", "width": 352, "height": 167, "transform": [{"filter": "datum.f === 'PaymentHistory'"}, {"fold": ["0", "1"], "as": ["Loan Approved", "p"]}], "mark": "bar", "encoding": {"x": {"field": "b", "type": "nominal", "sort": null, "title": "PaymentHistory", "axis": {"labelAngle": -45, "labelAlign": "right", "labelBaseline": "middle", "labelPadding": 12, "labelOffset": {"expr": "2.3*length(datum.value)+1"}}}, "y": {"field": "p", "type": "quantitative", "stack": "zero", "title": "Proportion", "scale": {"domain": [0, 1.05], "nice": false}, "axis": {"values": [0, 0.2, 0.4, 0.6, 0.8, 1], "format": ".1f"}}, "order": {"field": "Loan Approved", "sort": "ascending"}, "color": {"field": "Loan Approved", "type": "nominal", "scale": {"domain": ["0", "1"], "range": ["#ff0000", "#008000"]}}}},
{"title": "TotalAssets by Loan Approval Status", "width": 352, "height": 167, "transform": [{"filter": "datum.f === 'TotalAssets'"}, {"fold": ["0", "1"], "as": ["Loan Approved", "p"]}], "mark": "bar", "encoding": {"x": {"field": "b", "type": "nominal", "sort": null, "title": "TotalAssets", "axis": {"labelAngle": -45, "labelAlign": "right", "labelBaseline": "middle", "labelPadding": 12, "labelOffset": {"expr": "2.3*length(datum.value)+1"}}}, "y": {"field": "p", "type": "quantitative", "stack": "zero", "title": "Proportion", "scale": {"domain": [0, 1.05], "nice": false}, "axis": {"values": [0, 0.2, 0.4, 0.6, 0.8, 1], "format": ".1f"}}, "order": {"field": "Loan Approved", "sort": "ascending"}, "color": {"field": "Loan Approved", "type": "nominal", "scale": {"domain": ["0", "1"], "range": ["#ff0000", "#008000"]}}}},
{"title": "SavingsAccountBalance by Loan Approval Status", "width": 352, "height": 167, "transform": [{"filter": "datum.f === 'SavingsAccountBalance'"}, {"fold": ["0", "1"], "as": ["Loan Approved", "p"]}], "mark": "bar", "encoding": {"x": {"field": "b", "type": "nominal", "sort": null, "title": "SavingsAccountBalance", "axis": {"labelAngle": -45, "labelAlign": "right", "labelBaseline": "middle", "labelPadding": 12, "labelOffset": {"expr": "2.3*length(datum.value)+1"}}}, "y": {"field": "p", "type": "quantitative", "stack": "zero", "title": "Proportion", "scale": {"domain": [0, 1.05], "nice": false}, "axis": {"values": [0, 0.2, 0.4, 0.6, 0.8, 1], "format": ".1f"}}, "order": {"field": "Loan Approved", "sort": "ascending"}, "color": {"field": "Loan Approved", "type": "nominal", "scale": {"domain": ["0", "1"], "range": ["#ff0000", "#008000"]}}}},
{"title": "Age by Loan Approval Status", "width": 352, "height": 167, "transform": [{"filter": "datum.f === 'Age'"}, {"fold": ["0", "1"], "as": ["Loan Approved", "p"]}], "mark": "bar", "encoding": {"x": {"field": "b", "type": "nominal", "sort": null, "title": "Age", "axis": {"labelAngle": -45, "labelAlign": "right", "labelBaseline": "middle", "labelPadding": 12, "labelOffset": {"expr": "2.3*length(datum.value)+1"}}}, "y": {"field": "p", "type": "quantitative", "stack": "zero", "title": "Proportion", "scale": {"domain": [0, 1.05], "nice": false}, "axis": {"values": [0, 0.2, 0.4, 0.6, 0.8, 1], "format": ".1f"}}, "order": {"field": "Loan Approved", "sort": "ascending"}, "color": {"field": "Loan Approved", "type": "nominal", "scale": {"domain": ["0", "1"], "range": ["#ff0000", "#008000"]}}}},
{"title": "NumberOfCreditInquiries by Loan Approval Status", "width": 352, "height": 167, "transform": [{"filter": "datum.f === 'NumberOfCreditInquiries'"}, {"fold": ["0", "1"], "as": ["Loan Approved", "p"]}], "mark": "bar", "encoding": {"x": {"field": "b", "type": "nominal", "sort": null, "title": "NumberOfCreditInquiries", "axis": {"labelAngle": -45, "labelAlign": "right", "labelBaseline": "middle", "labelPadding": 12, "labelOffset": {"expr": "2.3*length(datum.value)+1"}}}, "y": {"field": "p", "type": "quantitative", "stack": "zero", "title": "Proportion", "scale": {"domain": [0, 1.05], "nice": false}, "axis": {"values": [0, 0.2, 0.4, 0.6, 0.8, 1], "format": ".1f"}}, "order": {"field": "Loan Approved", "sort": "ascending"}, "color": {"field": "Loan Approved", "type": "nominal", "scale": {"domain": ["0", "1"], "range": ["#ff0000", "#008000"]}}}},
{"title": "JobTenure by Loan Approval Status", "width": 352, "height": 167, "transform": [{"filter": "datum.f === 'JobTenure'"}, {"fold": ["0", "1"], "as": ["Loan Approved", "p"]}], "mark": "bar", "encoding": {"x": {"field": "b", "type": "nominal", "sort": null, "title": "JobTenure", "axis": {"labelAngle": -45, "labelAlign": "right", "labelBaseline": "middle", "labelPadding": 12, "labelOffset": {"expr": "2.3*length(datum.value)+1"}}}, "y": {"field": "p", "type": "quantitative", "stack": "zero", "title": "Proportion", "scale": {"domain": [0, 1.05], "nice": false}, "axis": {"values": [0, 0.2, 0.4, 0.6, 0.8, 1], "format": ".1f"}}, "order": {"field": "Loan Approved", "sort": "ascending"}, "color": {"field": "Loan Approved", "type": "nominal", "scale": {"domain": ["0", "1"], "range": ["#ff0000", "#008000"]}}}},
{"title": "DebtToIncomeRatio by Loan Approval Status", "width": 352, "height": 167, "transform": [{"filter": "datum.f === 'DebtToIncomeRatio'"}, {"fold": ["0", "1"], "as": ["Loan Approved", "p"]}], "mark": "bar", "encoding": {"x": {"field": "b", "type": "nominal", "sort": null, "title": "DebtToIncomeRatio", "axis": {"labelAngle": -45, "labelAlign": "right", "labelBaseline": "middle", "labelPadding": 12, "labelOffset": {"expr": "2.3*length(datum.value)+1"}}}, "y": {"field": "p", "type": "quantitative", "stack": "zero", "title": "Proportion", "scale": {"domain": [0, 1.05], "nice": false}, "axis": {"values": [0, 0.2, 0.4, 0.6, 0.8, 1], "format": ".1f"}}, "order": {"field": "Loan Approved", "sort": "ascending"}, "color": {"field": "Loan Approved", "type": "nominal", "scale": {"domain": ["0", "1"], "range": ["#ff0000", "#008000"]}}}},
{"title": "NumberOfOpenCreditLines by Loan Approval Status", "width": 352, "height": 167, "transform": [{"filter": "datum.f === 'NumberOfOpenCreditLines'"}, {"fold": ["0", "1"], "as": ["Loan Approved", "p"]}], "mark": "bar", "encoding": {"x": {"field": "b", "type": "nominal", "sort": null, "title": "NumberOfOpenCreditLines", "axis": {"labelAngle": -45, "labelAlign": "right", "labelBaseline": "middle", "labelPadding": 12, "labelOffset": {"expr": "2.3*length(datum.value)+1"}}}, "y": {"field": "p", "type": "quantitative", "stack": "zero", "title": "Proportion", "scale": {"domain": [0, 1.05], "nice": false}, "axis": {"values": [0, 0.2, 0.4, 0.6, 0.8, 1], "format": ".1f"}}, "order": {"field": "Loan Approved", "sort": "ascending"}, "color": {"field": "Loan Approved", "type": "nominal", "scale": {"domain": ["0", "1"], "range": ["#ff0000", "#008000"]}}}},
{"title": "InterestRate by Loan Approval Status", "width": 352, "height": 167, "transform": [{"filter": "datum.f === 'InterestRate'"}, {"fold": ["0", "1"], "as": ["Loan Approved", "p"]}], "mark": "bar", "encoding": {"x": {"field": "b", "type": "nominal", "sort": null, "title": "InterestRate", "axis": {"labelAngle": -45, "labelAlign": "right", "labelBaseline": "middle", "labelPadding": 12, "labelOffset": {"expr": "2.3*length(datum.value)+1"}}}, "y": {"field": "p", "type": "quantitative", "stack": "zero", "title": "Proportion", "scale": {"domain": [0, 1.05], "nice": false}, "axis": {"values": [0, 0.2, 0.4, 0.6, 0.8, 1], "format": ".1f"}}, "order": {"field": "Loan Approved", "sort": "ascending"}, "color": {"field": "Loan Approved", "type": "nominal", "scale": {"domain": ["0", "1"], "range": ["#ff0000", "#008000"]}}}},
{"title": "NumberOfDependents by Loan Approval Status", "width": 352, "height": 167, "transform": [{"filter": "datum.f === 'NumberOfDependents'"}, {"fold": ["0", "1"], "as": ["Loan Approved", "p"]}], "mark": "bar", "encoding": {"x": {"field": "b", "type": "nominal", "sort": null, "title": "NumberOfDependents", "axis": {"labelAngle": -45, "labelAlign": "right", "labelBaseline": "middle", "labelPadding": 12, "labelOffset": {"expr": "2.3*length(datum.value)+1"}}}, "y": {"field": "p", "type": "quantitative", "stack": "zero", "title": "Proportion", "scale": {"domain": [0, 1.05], "nice": false}, "axis": {"values": [0, 0.2, 0.4, 0.6, 0.8, 1], "format": ".1f"}}, "order": {"field": "Loan Approved", "sort": "ascending"}, "color": {"field": "Loan Approved", "type": "nominal", "scale": {"domain": ["0", "1"], "range": ["#ff0000", "#008000"]}}}},
{"width": 352, "height": 167, "data": {"values": []}, "mark": "point", "encoding": {"x": {"field": "x", "type": "quantitative", "title": null, "scale": {"domain": [0, 1], "nice": false}, "axis": {"values": [0, 0.2, 0.4, 0.6, 0.8, 1], "format": ".1f", "labelAngle": 0, "labelPadding": 4.9}}, "y": {"field": "y", "type": "quantitative", "title": null, "scale": {"domain": [0, 1], "nice": false}, "axis": {"values": [0, 0.2, 0.4, 0.6, 0.8, 1], "format": ".1f"}}}},
{"width": 352, "height": 167, "data": {"values": []}, "mark": "point", "encoding": {"x": {"field": "x", "type": "quantitative", "title": null, "scale": {"domain": [0, 1], "nice": false}, "axis": {"values": [0, 0.2, 0.4, 0.6, 0.8, 1], "format": ".1f", "labelAngle": 0, "labelPadding": 4.9}}, "y": {"field": "y", "type": "quantitative", "title": null, "scale": {"domain": [0, 1], "nice": false}, "axis": {"values": [0, 0.2, 0.4, 0.6, 0.8, 1], "format": ".1f"}}}},
{"width": 352, "height": 167, "data": {"values": []}, "mark": "point", "encoding": {"x": {"field": "x", "type": "quantitative", "title": null, "scale": {"domain": [0, 1], "nice": false}, "axis": {"values": [0, 0.2, 0.4, 0.6, 0.8, 1], "format": ".1f", "labelAngle": 0, "labelPadding": 4.9}}, "y": {"field": "y", "type": "quantitative", "title": null, "scale": {"domain": [0, 1], "nice": false}, "axis": {"values": [0, 0.2, 0.4, 0.6, 0.8, 1], "format": ".1f"}}}},
{"width": 352, "height": 167, "data": {"values": []}, "mark": "point", "encoding": {"x": {"field": "x", "type": "quantitative", "title": null, "scale": {"domain": [0, 1], "nice": false}, "axis": {"values": [0, 0.2, 0.4, 0.6, 0.8, 1], "format": ".1f", "labelAngle": 0, "labelPadding": 4.9}}, "y": {"field": "y", "type": "quantitative", "title": null, "scale": {"domain": [0, 1], "nice": false}, "axis": {"values": [0, 0.2, 0.4, 0.6, 0.8, 1], "format": ".1f"}}}}
],
"config": {
  "font": "DejaVu Sans",
  "view": {"stroke": "black", "strokeWidth": 1.1, "fill": "white"},
  "scale": {"bandPaddingInner": 0.5, "bandPaddingOuter": 0.25},
  "bar": {"strokeWidth": 0},
  "axis": {"domain": false, "grid": false, "ticks": true, "tickColor": "black", "tickSize": 4.9, "tickWidth": 1.1, "labelColor": "black", "labelFontSize": 13.9, "labelFont": "DejaVu Sans", "titleFont": "DejaVu Sans", "titleFontSize": 13.9, "titleFontWeight": "normal", "titleColor": "black", "labelOverlap": false, "labelBound": false, "labelFlush": false, "labelLimit": 400},
  "axisY": {"labelPadding": 4.9, "titlePadding": 5.6},
  "axisX": {"titlePadding": 2},
  "title": {"fontSize": 16.7, "fontWeight": "normal", "color": "black", "font": "DejaVu Sans", "offset": 5, "baseline": "alphabetic", "anchor": "middle", "frame": "group"},
  "legend": {"orient": "none", "legendX": 359, "legendY": 7, "titleFontSize": 13.9, "titleFontWeight": "normal", "titleColor": "black", "titleFont": "DejaVu Sans", "labelFontSize": 13.9, "labelColor": "black", "labelFont": "DejaVu Sans", "padding": 5.6, "strokeColor": "#cccccc", "fillColor": "white", "cornerRadius": 2.8, "symbolType": "M-2,-0.7H2V0.7H-2Z", "symbolSize": 196, "symbolStrokeWidth": 0, "symbolOffset": 16.5, "labelOffset": 18, "rowPadding": 6.7, "titlePadding": 7, "titleAnchor": "middle"}
}
}
